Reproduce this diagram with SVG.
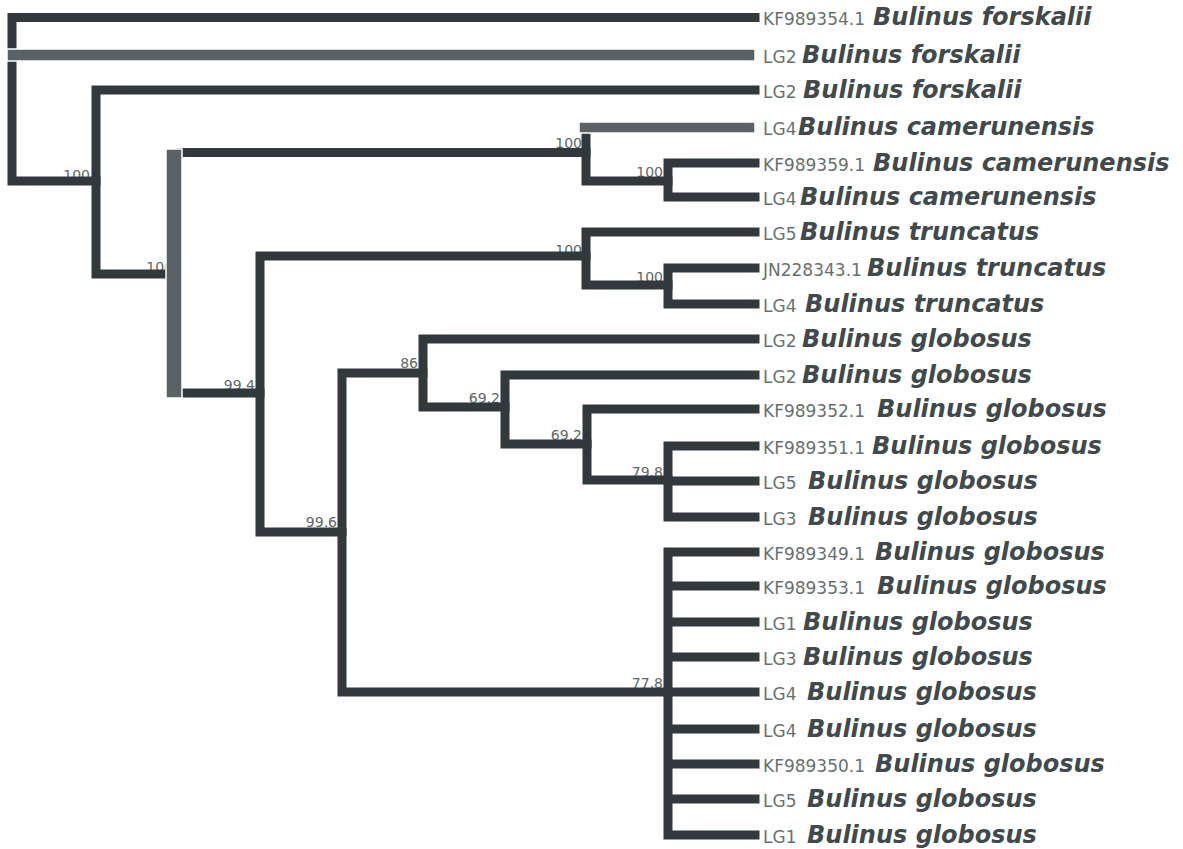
<svg xmlns="http://www.w3.org/2000/svg" width="1183" height="849" viewBox="0 0 1183 849">
<style>
.br{fill:none;stroke:#31393c;stroke-width:9;stroke-linecap:square;stroke-linejoin:miter}
.hl{fill:#596164;stroke:#ffffff;stroke-width:1.5}
.bs{font-family:"DejaVu Sans",sans-serif;font-size:14px;fill:#5d6668;text-anchor:end}
.pre{font-family:"DejaVu Sans",sans-serif;font-size:17px;fill:#66716f}
.sp{font-family:"DejaVu Sans",sans-serif;font-size:24px;font-weight:bold;font-style:italic;fill:#404a4d}
</style>
<rect width="1183" height="849" fill="#ffffff"/>
<g id="bootstrap">
<text class="bs" x="90" y="180">100</text>
<text class="bs" x="173" y="272">100</text>
<text class="bs" x="582" y="148">100</text>
<text class="bs" x="663" y="177">100</text>
<text class="bs" x="582" y="255">100</text>
<text class="bs" x="663" y="282">100</text>
<text class="bs" x="255" y="390">99.4</text>
<text class="bs" x="337" y="527">99.6</text>
<text class="bs" x="418" y="368">86</text>
<text class="bs" x="500" y="403">69.2</text>
<text class="bs" x="582" y="440">69.2</text>
<text class="bs" x="663" y="477">79.8</text>
<text class="bs" x="663" y="688">77.8</text>
</g>
<g id="connectors">
<path class="br" d="M755 17.5 H12 V181 H96"/>
<path class="br" d="M755 90 H96 V274 H166"/>
<path class="br" d="M182 152.5 H586"/>
<path class="br" d="M586 130 V181 H668"/>
<path class="br" d="M755 163 H668 V197 H755"/>
<path class="br" d="M182 393 H260"/>
<path class="br" d="M586 256 H260 V532 H342"/>
<path class="br" d="M755 232 H586 V285 H668"/>
<path class="br" d="M755 268 H668 V304 H755"/>
<path class="br" d="M423 373 H342 V692 H668"/>
<path class="br" d="M755 339 H423 V407 H505"/>
<path class="br" d="M755 375 H505 V444 H587"/>
<path class="br" d="M755 409 H587 V480 H668"/>
<path class="br" d="M755 446 H668 V517 H755 M668 481 H755"/>
<path class="br" d="M668 552 V835 M668 552 H755 M668 586 H755 M668 622 H755 M668 657 H755 M668 692 H755 M668 729 H755 M668 764 H755 M668 799 H755 M668 835 H755"/>
<rect class="hl" x="7" y="49" width="748" height="12"/>
<rect class="hl" x="579" y="122" width="176" height="11"/>
<rect class="hl" x="166" y="149" width="16" height="249"/>
</g>
<g id="leaf1"><text class="pre" x="763" y="25">KF989354.1</text><text class="sp" x="873" y="25">Bulinus forskalii</text></g>
<g id="leaf2"><text class="pre" x="763" y="63">LG2</text><text class="sp" x="802" y="63">Bulinus forskalii</text></g>
<g id="leaf3"><text class="pre" x="763" y="98">LG2</text><text class="sp" x="803" y="98">Bulinus forskalii</text></g>
<g id="leaf4"><text class="pre" x="763" y="135">LG4</text><text class="sp" x="798" y="135">Bulinus camerunensis</text></g>
<g id="leaf5"><text class="pre" x="763" y="171">KF989359.1</text><text class="sp" x="873" y="171">Bulinus camerunensis</text></g>
<g id="leaf6"><text class="pre" x="763" y="205">LG4</text><text class="sp" x="800" y="205">Bulinus camerunensis</text></g>
<g id="leaf7"><text class="pre" x="763" y="240">LG5</text><text class="sp" x="800" y="240">Bulinus truncatus</text></g>
<g id="leaf8"><text class="pre" x="763" y="276">JN228343.1</text><text class="sp" x="867" y="276">Bulinus truncatus</text></g>
<g id="leaf9"><text class="pre" x="763" y="312">LG4</text><text class="sp" x="805" y="312">Bulinus truncatus</text></g>
<g id="leaf10"><text class="pre" x="763" y="347">LG2</text><text class="sp" x="802" y="347">Bulinus globosus</text></g>
<g id="leaf11"><text class="pre" x="763" y="383">LG2</text><text class="sp" x="802" y="383">Bulinus globosus</text></g>
<g id="leaf12"><text class="pre" x="763" y="417">KF989352.1</text><text class="sp" x="877" y="417">Bulinus globosus</text></g>
<g id="leaf13"><text class="pre" x="763" y="454">KF989351.1</text><text class="sp" x="872" y="454">Bulinus globosus</text></g>
<g id="leaf14"><text class="pre" x="763" y="489">LG5</text><text class="sp" x="808" y="489">Bulinus globosus</text></g>
<g id="leaf15"><text class="pre" x="763" y="525">LG3</text><text class="sp" x="808" y="525">Bulinus globosus</text></g>
<g id="leaf16"><text class="pre" x="763" y="560">KF989349.1</text><text class="sp" x="875" y="560">Bulinus globosus</text></g>
<g id="leaf17"><text class="pre" x="763" y="594">KF989353.1</text><text class="sp" x="877" y="594">Bulinus globosus</text></g>
<g id="leaf18"><text class="pre" x="763" y="630">LG1</text><text class="sp" x="803" y="630">Bulinus globosus</text></g>
<g id="leaf19"><text class="pre" x="763" y="665">LG3</text><text class="sp" x="803" y="665">Bulinus globosus</text></g>
<g id="leaf20"><text class="pre" x="763" y="700">LG4</text><text class="sp" x="807" y="700">Bulinus globosus</text></g>
<g id="leaf21"><text class="pre" x="763" y="737">LG4</text><text class="sp" x="807" y="737">Bulinus globosus</text></g>
<g id="leaf22"><text class="pre" x="763" y="772">KF989350.1</text><text class="sp" x="875" y="772">Bulinus globosus</text></g>
<g id="leaf23"><text class="pre" x="763" y="807">LG5</text><text class="sp" x="807" y="807">Bulinus globosus</text></g>
<g id="leaf24"><text class="pre" x="763" y="843">LG1</text><text class="sp" x="807" y="843">Bulinus globosus</text></g>
</svg>
